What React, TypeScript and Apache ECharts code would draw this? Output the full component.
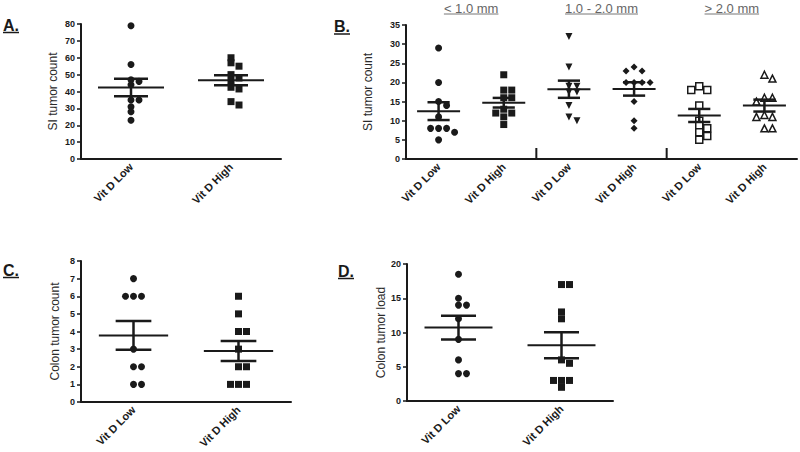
import React, { useEffect, useRef } from "react";
import * as echarts from "echarts";

// ---------- data ----------
const vitDCategories = ["Vit D Low", "Vit D High"];
const sizeCategories = ["Vit D Low", "Vit D High", "Vit D Low", "Vit D High", "Vit D Low", "Vit D High"];
const sizeGroupLabels = ["< 1.0 mm", "1.0 - 2.0 mm", "> 2.0 mm"];
const panelLetters = ["A.", "B.", "C.", "D."];
const yAxisNames = ["SI tumor count", "SI tumor count", "Colon tumor count", "Colon tumor load"];
const yMax = [80, 35, 8, 20];
const yInterval = [10, 5, 1, 5];

// A: SI tumor count
const siLow = [79, 56, 47, 46, 44, 35, 35, 31, 28, 23];
const siHigh = [60, 57, 55, 50, 48, 46, 42.5, 41.5, 34, 32];

// B: SI tumor count by tumor size
const smallLow = [29, 20, 15, 14, 11, 8, 8, 8, 7, 5];
const smallHigh = [22, 18, 18, 16, 16, 13, 12, 12, 11, 9];
const midLow = [32, 24, 19, 19, 17.5, 17.5, 14, 11, 10];
const midHigh = [24, 23, 23, 20, 20, 20, 20, 15, 10, 8];
const largeLow = [19, 18, 18, 14, 10, 8.7, 8, 7, 6, 5];
const largeHigh = [22, 21, 16, 16, 15, 11.5, 11, 11, 8, 8];

// C: colon tumor count
const colonCountLow = [7, 6, 6, 6, 3, 2, 2, 1, 1];
const colonCountHigh = [6, 5, 4, 4, 3, 2, 2, 1, 1, 1];

// D: colon tumor load
const colonLoadLow = [18.5, 15, 14, 14, 12, 9, 6, 4, 4];
const colonLoadHigh = [17, 17, 13, 12, 6, 5.5, 3, 3, 3, 2];

// ---------- styling / layout ----------
const FONT = "'Liberation Sans', Arial, sans-serif";
const INK = "#1a1a1a";
const SYMBOL_SIZE = 7;
const SWARM_STEP = 8;

type Group = { values: number[]; symbol: string; rotate?: number; open?: boolean };
type Panel = {
  grid: { left: number; top: number; width: number; height: number };
  categories: string[];
  nameGap: number;
  groups: Group[];
  letterPos: [number, number];
};

const panels: Panel[] = [
  {
    grid: { left: 81, top: 24, width: 200, height: 135 },
    categories: vitDCategories,
    nameGap: 22,
    letterPos: [3, 25],
    groups: [
      { values: siLow, symbol: "circle" },
      { values: siHigh, symbol: "rect" },
    ],
  },
  {
    grid: { left: 406, top: 25, width: 391, height: 134 },
    categories: sizeCategories,
    nameGap: 32,
    letterPos: [334, 26.5],
    groups: [
      { values: smallLow, symbol: "circle" },
      { values: smallHigh, symbol: "rect" },
      { values: midLow, symbol: "triangle", rotate: 180 },
      { values: midHigh, symbol: "diamond" },
      { values: largeLow, symbol: "rect", open: true },
      { values: largeHigh, symbol: "triangle", open: true },
    ],
  },
  {
    grid: { left: 81, top: 261, width: 210, height: 141 },
    categories: vitDCategories,
    nameGap: 20,
    letterPos: [3, 270],
    groups: [
      { values: colonCountLow, symbol: "circle" },
      { values: colonCountHigh, symbol: "rect" },
    ],
  },
  {
    grid: { left: 407, top: 264, width: 206, height: 137 },
    categories: vitDCategories,
    nameGap: 20,
    letterPos: [338, 271],
    groups: [
      { values: colonLoadLow, symbol: "circle" },
      { values: colonLoadHigh, symbol: "rect" },
    ],
  },
];

function meanSem(v: number[]): [number, number] {
  const n = v.length;
  const m = v.reduce((a, b) => a + b, 0) / n;
  const sd = Math.sqrt(v.reduce((a, b) => a + (b - m) * (b - m), 0) / (n - 1));
  return [m, sd / Math.sqrt(n)];
}

function swarm(pys: number[], d: number): number[] {
  const order = pys.map((_, i) => i).sort((a, b) => pys[a] - pys[b]);
  const placed: { x: number; y: number }[] = [];
  const offs = new Array(pys.length).fill(0);
  for (const i of order) {
    const y = pys[i];
    for (let k = 0; k < 30; k++) {
      const step = Math.ceil(k / 2);
      const cand = k === 0 ? 0 : (k % 2 === 1 ? step : -step) * d;
      if (placed.every((p) => Math.hypot(p.x - cand, p.y - y) >= d * 0.55)) {
        offs[i] = cand;
        placed.push({ x: cand, y });
        break;
      }
    }
  }
  return offs;
}

function measure(text: string, font: string): number {
  const c = document.createElement("canvas").getContext("2d");
  if (!c) return text.length * 7;
  c.font = font;
  return c.measureText(text).width;
}

function buildOption(offsets: number[][][] | null, graphic: any[]) {
  const series: any[] = [];
  panels.forEach((p, pi) => {
    p.groups.forEach((g, gi) => {
      series.push({
        type: "scatter",
        xAxisIndex: pi,
        yAxisIndex: pi,
        symbol: g.symbol,
        symbolSize: SYMBOL_SIZE,
        symbolRotate: g.rotate || 0,
        itemStyle: g.open
          ? { color: "#ffffff", borderColor: INK, borderWidth: 1.5, opacity: 1 }
          : { color: INK, opacity: 1 },
        z: 3,
        data: g.values.map((v, vi) => ({
          value: [gi, v],
          symbolOffset: [offsets ? offsets[pi][gi][vi] : 0, 0],
        })),
      });
    });
    series.push({
      type: "custom",
      xAxisIndex: pi,
      yAxisIndex: pi,
      z: 4,
      encode: { x: 0, y: 1 },
      data: p.groups.map((g, gi) => {
        const [m, s] = meanSem(g.values);
        return [gi, m, s];
      }),
      renderItem: (params: any, api: any) => {
        const c = api.value(0);
        const m = api.value(1);
        const s = api.value(2);
        const mid = api.coord([c, m]);
        const hi = api.coord([c, m + s]);
        const lo = api.coord([c, m - s]);
        const band = api.size([1, 0])[0];
        const wm = band * 0.33;
        const ws = band * 0.17;
        const ls = { stroke: INK, lineWidth: 2 };
        const lw = { stroke: INK, lineWidth: 2.5 };
        return {
          type: "group",
          children: [
            { type: "line", shape: { x1: mid[0] - wm, y1: mid[1], x2: mid[0] + wm, y2: mid[1] }, style: ls },
            { type: "line", shape: { x1: mid[0] - ws, y1: hi[1], x2: mid[0] + ws, y2: hi[1] }, style: lw },
            { type: "line", shape: { x1: mid[0] - ws, y1: lo[1], x2: mid[0] + ws, y2: lo[1] }, style: lw },
            { type: "line", shape: { x1: mid[0], y1: hi[1], x2: mid[0], y2: lo[1] }, style: lw },
          ],
        };
      },
    });
  });
  // separators between size groups in panel B
  series.push({
    type: "custom",
    xAxisIndex: 1,
    yAxisIndex: 1,
    z: 4,
    encode: { x: 0, y: 1 },
    data: [
      [1, 0],
      [3, 0],
    ],
    renderItem: (params: any, api: any) => {
      const a = api.coord([api.value(0), 0]);
      const b = api.coord([api.value(0) + 1, 0]);
      const xm = (a[0] + b[0]) / 2;
      return {
        type: "line",
        shape: { x1: xm, y1: a[1], x2: xm, y2: a[1] - 11 },
        style: { stroke: INK, lineWidth: 2 },
      };
    },
  });

  return {
    animation: false,
    backgroundColor: "#ffffff",
    textStyle: { fontFamily: FONT },
    grid: panels.map((p) => ({ ...p.grid, containLabel: false, outerBoundsMode: "none" })),
    xAxis: panels.map((p, i) => ({
      type: "category",
      gridIndex: i,
      data: p.categories,
      boundaryGap: true,
      axisLine: { lineStyle: { color: INK, width: 2 } },
      axisTick: { alignWithLabel: true, length: 5, lineStyle: { color: INK, width: 1.5 } },
      axisLabel: {
        rotate: 45,
        interval: 0,
        fontSize: 11,
        fontWeight: "bold",
        fontFamily: FONT,
        color: INK,
        margin: 6,
      },
      splitLine: { show: false },
    })),
    yAxis: panels.map((p, i) => ({
      type: "value",
      gridIndex: i,
      min: 0,
      max: yMax[i],
      interval: yInterval[i],
      name: yAxisNames[i],
      nameLocation: "middle",
      nameGap: p.nameGap,
      nameRotate: 90,
      nameTextStyle: { fontSize: 12, color: "#2a2a2a", fontFamily: FONT },
      axisLine: { show: true, lineStyle: { color: INK, width: 2 } },
      axisTick: { show: true, length: 4, lineStyle: { color: INK, width: 1.5 } },
      axisLabel: { fontSize: 9, fontWeight: "bold", fontFamily: FONT, color: INK, margin: 6 },
      splitLine: { show: false },
    })),
    series,
    graphic,
  };
}

export default function App() {
  const ref = useRef<HTMLDivElement>(null);
  useEffect(() => {
    if (!ref.current) return;
    const chart = echarts.init(ref.current, undefined, { renderer: "svg" });
    chart.setOption(buildOption(null, []));

    // compute beeswarm offsets in pixel space via the axes' scales
    const offsets = panels.map((p, pi) =>
      p.groups.map((g, gi) => {
        const pys = g.values.map((v) => {
          const pt = chart.convertToPixel({ gridIndex: pi } as any, [gi, v]) as number[];
          return pt[1];
        });
        return swarm(pys, SWARM_STEP);
      })
    );

    const graphic: any[] = [];
    const letterFont = `bold 16px ${FONT}`;
    panels.forEach((p, pi) => {
      const [lx, ly] = p.letterPos;
      const w = measure(panelLetters[pi], letterFont);
      graphic.push({
        type: "text",
        x: lx,
        y: ly,
        style: {
          text: panelLetters[pi],
          fontSize: 16,
          fontWeight: "bold",
          fontFamily: FONT,
          fill: INK,
          textVerticalAlign: "middle",
          verticalAlign: "middle",
        },
      });
      graphic.push({
        type: "line",
        shape: { x1: lx, y1: ly + 7.5, x2: lx + w, y2: ly + 7.5 },
        style: { stroke: INK, lineWidth: 1.5 },
      });
    });

    const topFont = `13px ${FONT}`;
    sizeGroupLabels.forEach((label, k) => {
      const a = chart.convertToPixel({ gridIndex: 1 } as any, [2 * k, 0]) as number[];
      const b = chart.convertToPixel({ gridIndex: 1 } as any, [2 * k + 1, 0]) as number[];
      const cx = (a[0] + b[0]) / 2;
      const w = measure(label, topFont);
      graphic.push({
        type: "text",
        x: cx,
        y: 8,
        style: {
          text: label,
          fontSize: 13,
          fontFamily: FONT,
          fill: "#666",
          align: "center",
          textAlign: "center",
          verticalAlign: "middle",
          textVerticalAlign: "middle",
        },
      });
      graphic.push({
        type: "line",
        shape: { x1: cx - w / 2, y1: 14, x2: cx + w / 2, y2: 14 },
        style: { stroke: "#777", lineWidth: 1 },
      });
    });

    chart.setOption(buildOption(offsets, graphic), { notMerge: true });
    return () => chart.dispose();
  }, []);
  return (
    <div
      ref={ref}
      style={{ position: "fixed", left: 0, top: 0, width: 800, height: 452, background: "#fff" }}
    />
  );
}
